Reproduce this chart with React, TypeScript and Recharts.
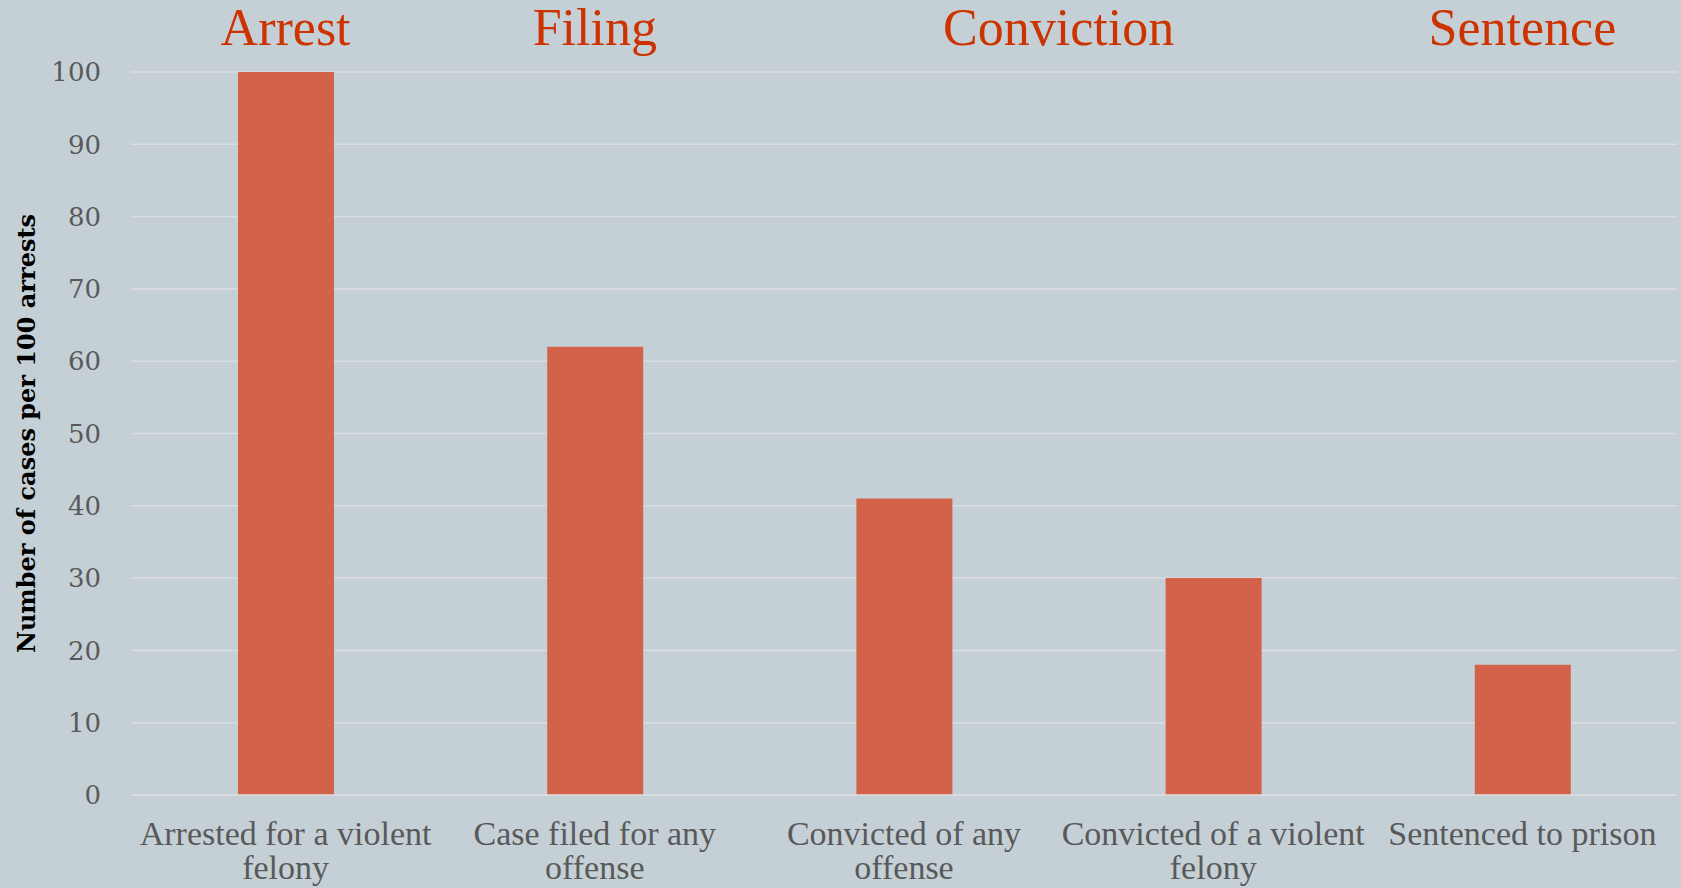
import { Bar, BarChart, CartesianGrid, ReferenceArea, XAxis, YAxis } from 'recharts'

const categories = [
  'Arrested for a violent felony',
  'Case filed for any offense',
  'Convicted of any offense',
  'Convicted of a violent felony',
  'Sentenced to prison',
]

// how each category label breaks onto lines
const categoryLines = [
  ['Arrested for a violent', 'felony'],
  ['Case filed for any', 'offense'],
  ['Convicted of any', 'offense'],
  ['Convicted of a violent', 'felony'],
  ['Sentenced to prison'],
]

const casesPer100 = [100, 62, 41, 30, 18]

const yTicks = [0, 10, 20, 30, 40, 50, 60, 70, 80, 90, 100]

const stageNames = ['Arrest', 'Filing', 'Conviction', 'Sentence']
const stageFrom = [0, 1, 2, 4]
const stageTo = [0, 1, 3, 4]

const data = categories.map((name, i) => ({ name, value: casesPer100[i] }))

const BG = '#c5d0d6'
const BAR = '#d2634a'
const RED = '#cc3300'
const GRID = '#dcdde0'
const TICK = '#595959'

const CategoryTick = ({ x, y, payload }: any) => {
  const lines = categoryLines[payload.index] ?? [payload.value]
  return (
    <text
      x={x}
      y={y}
      textAnchor="middle"
      fill={TICK}
      fontFamily="'Liberation Serif', serif"
      fontSize={34}
    >
      {lines.map((line, i) => (
        <tspan key={i} x={x} dy={i === 0 ? 50 : 34}>
          {line}
        </tspan>
      ))}
    </text>
  )
}

const YTitle = ({ viewBox }: any) => {
  const cx = viewBox.x + 26
  const cy = viewBox.y + viewBox.height / 2
  return (
    <text
      x={cx}
      y={cy}
      transform={`rotate(-90, ${cx}, ${cy})`}
      textAnchor="middle"
      dominantBaseline="central"
      fill="#000"
      fontFamily="'DejaVu Serif', serif"
      fontWeight="bold"
      fontSize={24}
    >
      Number of cases per 100 arrests
    </text>
  )
}

export default function App() {
  return (
    <div style={{ width: 1681, height: 888, background: BG }}>
      <style>{'body { margin: 0; }'}</style>
      <BarChart
        width={1681}
        height={888}
        data={data}
        margin={{ top: 72, right: 4, bottom: 0, left: 0 }}
      >
        <CartesianGrid vertical={false} stroke={GRID} strokeWidth={1.5} />
        <XAxis
          dataKey="name"
          height={93}
          interval={0}
          tickLine={false}
          tickSize={0}
          tickMargin={0}
          axisLine={{ stroke: GRID, strokeWidth: 1.5 }}
          tick={<CategoryTick />}
        />
        <YAxis
          width={131}
          domain={[0, 100]}
          ticks={yTicks}
          interval={0}
          axisLine={false}
          tickLine={false}
          tickSize={0}
          tickMargin={30}
          tick={{ fill: TICK, fontSize: 26, fontFamily: "'DejaVu Serif', serif" }}
          label={{ content: <YTitle /> }}
        />
        {stageNames.map((stage, i) => (
          <ReferenceArea
            key={stage}
            x1={categories[stageFrom[i]]}
            x2={categories[stageTo[i]]}
            fill="none"
            stroke="none"
            label={{
              value: stage,
              position: 'top',
              offset: 27,
              fill: RED,
              fontSize: 52,
              fontFamily: "'Liberation Serif', serif",
            }}
          />
        ))}
        <Bar dataKey="value" fill={BAR} barSize={96} isAnimationActive={false} />
      </BarChart>
    </div>
  )
}
